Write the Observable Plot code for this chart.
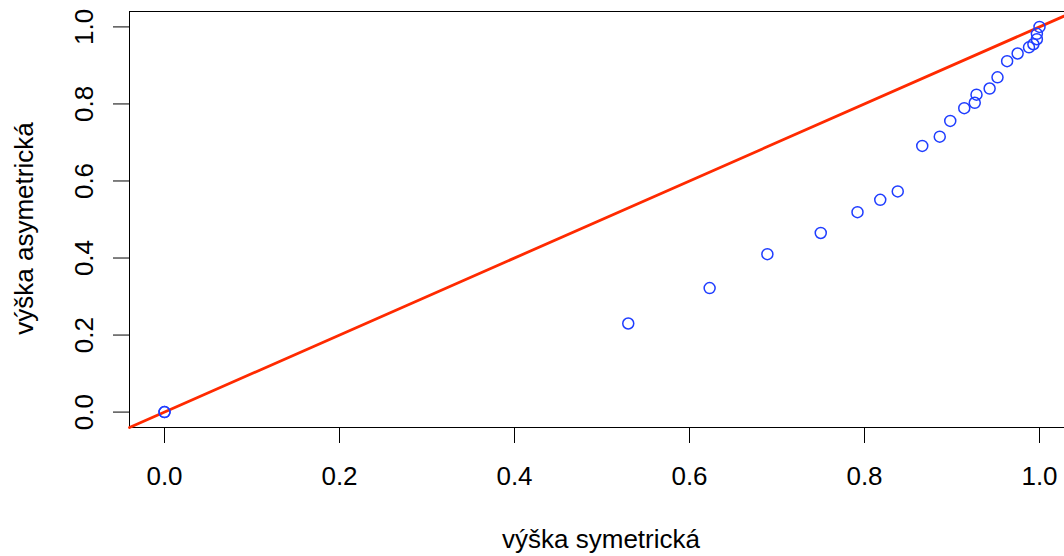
<!DOCTYPE html>
<html>
<head>
<meta charset="utf-8">
<script src="https://cdn.jsdelivr.net/npm/d3@7"></script>
<script src="https://cdn.jsdelivr.net/npm/@observablehq/plot@0.6"></script>
<style>
  html, body { margin: 0; padding: 0; background: #fff; overflow: hidden; }
  #chart svg { display: block; }
</style>
</head>
<body>
<div id="chart"></div>
<script>
// Heights measured on the symmetric vs. asymmetric variant
const vyskaSymetricka  = [0, 0, 0.530, 0.623, 0.689, 0.750, 0.792, 0.818, 0.838, 0.866, 0.886, 0.898,
                          0.914, 0.926, 0.928, 0.943, 0.952, 0.963, 0.975, 0.988, 0.993, 0.997, 0.997, 1.0];
const vyskaAsymetricka = [0, 0, 0.230, 0.322, 0.410, 0.465, 0.519, 0.551, 0.573, 0.691, 0.715, 0.756,
                          0.789, 0.803, 0.824, 0.840, 0.869, 0.911, 0.931, 0.947, 0.955, 0.968, 0.982, 1.0];

// Reference line y = x
const diagonal = [-0.04, 1.04];

const xTicks = [0, 0.2, 0.4, 0.6, 0.8, 1.0];
const yTicks = [0, 0.2, 0.4, 0.6, 0.8, 1.0];
const xTitle = "výška symetrická";
const yTitle = "výška asymetrická";

const points = vyskaSymetricka.map((s, i) => ({sym: s, asym: vyskaAsymetricka[i]}));
const fmt = d3.format(".1f");
const font = "'Liberation Sans', Arial, Helvetica, sans-serif";

const chart = Plot.plot({
  width: 1064,
  height: 556,
  marginTop: 11,
  marginBottom: 129,
  marginLeft: 129,
  marginRight: 0,
  style: {fontFamily: font, fontSize: "26px", color: "#000", background: "#fff", overflow: "visible"},
  x: {
    domain: [-0.04, 1.04],
    range: [129, 1074],
    ticks: xTicks,
    tickFormat: fmt,
    tickSize: 16,
    tickPadding: 23,
    label: null
  },
  y: {
    domain: [-0.04, 1.04],
    ticks: yTicks,
    tickFormat: () => "",
    tickSize: 16,
    tickPadding: 0,
    label: null
  },
  marks: [
    // plot box (right side runs past the page edge)
    Plot.ruleY([-0.04, 1.04], {stroke: "#000", strokeWidth: 1}),
    Plot.ruleX([-0.04], {stroke: "#000", strokeWidth: 1}),
    // y tick labels, rotated as in base graphics
    Plot.text(yTicks, {
      y: d => d,
      text: d => fmt(d),
      frameAnchor: "left",
      dx: -37,
      rotate: -90,
      textAnchor: "middle",
      lineAnchor: "bottom",
      fontSize: 26,
      fill: "#000"
    }),
    // axis titles
    Plot.text([xTitle], {
      text: d => d,
      frameAnchor: "bottom",
      dx: 4,
      dy: 120,
      lineAnchor: "bottom",
      textAnchor: "middle",
      fontSize: 26,
      fill: "#000"
    }),
    Plot.text([yTitle], {
      text: d => d,
      frameAnchor: "left",
      dx: -97,
      dy: 9,
      rotate: -90,
      lineAnchor: "bottom",
      textAnchor: "middle",
      fontSize: 26,
      fill: "#000"
    }),
    // y = x line
    Plot.line(diagonal.map(v => ({sym: v, asym: v})), {
      x: "sym", y: "asym", stroke: "#ff2a00", strokeWidth: 2.8
    }),
    // observations
    Plot.dot(points, {
      x: "sym", y: "asym", r: 5.5, stroke: "#1f3dff", strokeWidth: 1.5, fill: "none"
    })
  ]
});

document.getElementById("chart").appendChild(chart);
</script>
</body>
</html>
